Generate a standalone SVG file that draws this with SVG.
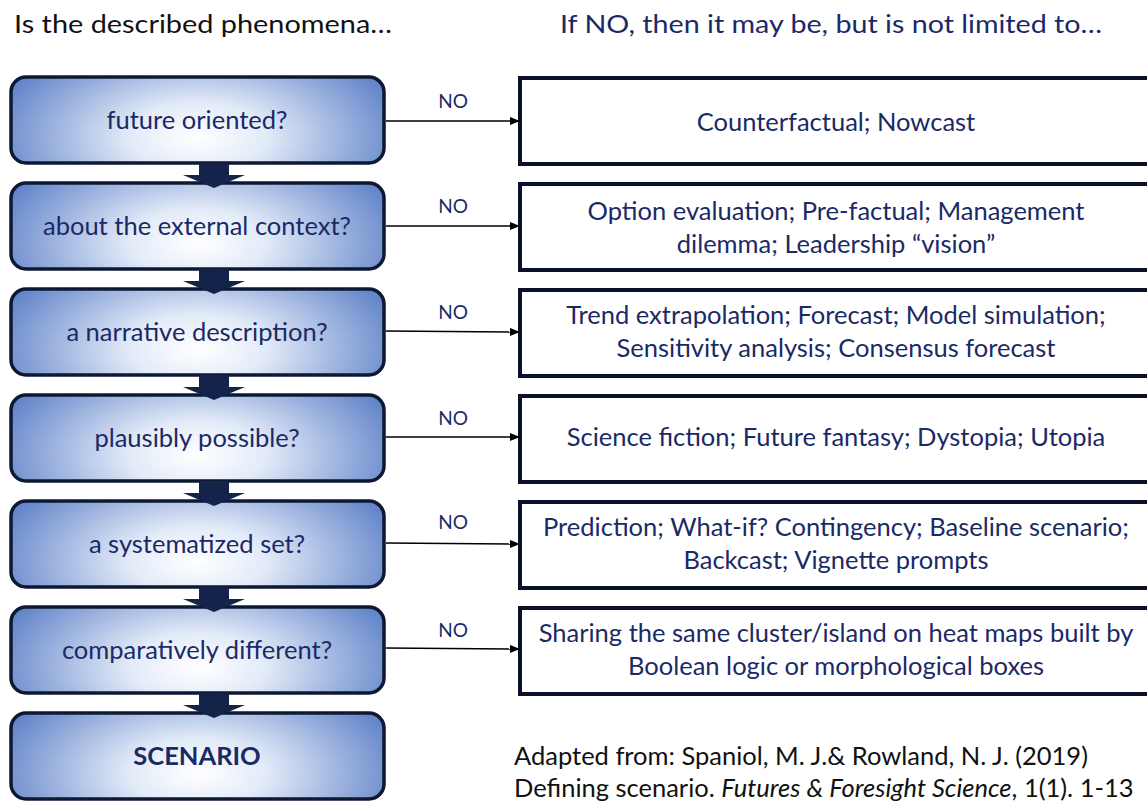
<svg xmlns="http://www.w3.org/2000/svg" width="1147" height="802" viewBox="0 0 1147 802">
<defs>
<radialGradient id="bg" cx="0.5" cy="0.7" r="0.6" gradientTransform="translate(0.5 0.7) scale(1 2.2) translate(-0.5 -0.7)">
<stop offset="0" stop-color="#ffffff"/>
<stop offset="0.3" stop-color="#e3ebf8"/>
<stop offset="1" stop-color="#5479c4"/>
</radialGradient>
<marker id="ah" markerWidth="10" markerHeight="8" refX="10" refY="4" orient="auto" markerUnits="userSpaceOnUse">
<path d="M0,0 L10,4 L0,8 z" fill="#000"/>
</marker>
<path id="darr" d="M-15,0 H15 V12 H31 L0,25 L-31,12 H-15 z"/>
</defs>
<style>
.q{fill:url(#bg);stroke:#0d1833;stroke-width:3.5}
.r{fill:#fff;stroke:#0a0f2a;stroke-width:4}
.t{font-family:Lato,"Open Sans",sans-serif;font-size:25.5px;fill:#1a2a66;text-anchor:middle}
.no{font-family:Lato,"Open Sans",sans-serif;font-size:19px;fill:#1a2a66;text-anchor:middle}
.h{font-family:Lato,"Open Sans",sans-serif;font-size:25.5px}
.c{stroke:#000;stroke-width:1.5;fill:none;marker-end:url(#ah)}
.da{fill:#13234a}
</style>
<text class="h" x="14" y="33" fill="#111" font-size="27" textLength="378" lengthAdjust="spacingAndGlyphs">Is the described phenomena…</text>
<text class="h" x="560" y="33" fill="#1a2a66" font-size="27" textLength="542" lengthAdjust="spacingAndGlyphs">If NO, then it may be, but is not limited to…</text>

<g id="q1"><rect class="q" x="11" y="77" width="373" height="86" rx="15"/><text class="t" x="197" y="129">future oriented?</text></g>
<g id="q2"><rect class="q" x="11" y="183" width="373" height="86" rx="15"/><text class="t" x="197" y="235">about the external context?</text></g>
<g id="q3"><rect class="q" x="11" y="289" width="373" height="86" rx="15"/><text class="t" x="197" y="341">a narrative description?</text></g>
<g id="q4"><rect class="q" x="11" y="395" width="373" height="86" rx="15"/><text class="t" x="197" y="447">plausibly possible?</text></g>
<g id="q5"><rect class="q" x="11" y="501" width="373" height="86" rx="15"/><text class="t" x="197" y="553">a systematized set?</text></g>
<g id="q6"><rect class="q" x="11" y="607" width="373" height="86" rx="15"/><text class="t" x="197" y="659">comparatively different?</text></g>
<g id="scenario"><rect class="q" x="11" y="713" width="373" height="86" rx="15"/><text class="t" x="197" y="765" font-weight="bold">SCENARIO</text></g>

<g id="a1"><rect class="r" x="520" y="78" width="640" height="86"/><text class="t" x="836" y="131">Counterfactual; Nowcast</text></g>
<g id="a2"><rect class="r" x="520" y="184" width="640" height="86"/><text class="t" x="836" y="220">Option evaluation; Pre-factual; Management</text><text class="t" x="836" y="253">dilemma; Leadership “vision”</text></g>
<g id="a3"><rect class="r" x="520" y="290" width="640" height="86"/><text class="t" x="836" y="324">Trend extrapolation; Forecast; Model simulation;</text><text class="t" x="836" y="357">Sensitivity analysis; Consensus forecast</text></g>
<g id="a4"><rect class="r" x="520" y="396" width="640" height="86"/><text class="t" x="836" y="446">Science fiction; Future fantasy; Dystopia; Utopia</text></g>
<g id="a5"><rect class="r" x="520" y="502" width="640" height="86"/><text class="t" x="836" y="536">Prediction; What-if? Contingency; Baseline scenario;</text><text class="t" x="836" y="569">Backcast; Vignette prompts</text></g>
<g id="a6"><rect class="r" x="520" y="608" width="640" height="86"/><text class="t" x="836" y="642">Sharing the same cluster/island on heat maps built by</text><text class="t" x="836" y="675">Boolean logic or morphological boxes</text></g>

<g id="connectors">
<line class="c" x1="386" y1="121" x2="520" y2="121"/>
<line class="c" x1="386" y1="226" x2="520" y2="226"/>
<line class="c" x1="386" y1="331" x2="520" y2="332"/>
<line class="c" x1="386" y1="437" x2="520" y2="437"/>
<line class="c" x1="386" y1="543" x2="520" y2="544"/>
<line class="c" x1="386" y1="648" x2="520" y2="649"/>
<text class="no" x="453" y="108">NO</text>
<text class="no" x="453" y="213">NO</text>
<text class="no" x="453" y="319">NO</text>
<text class="no" x="453" y="425">NO</text>
<text class="no" x="453" y="529">NO</text>
<text class="no" x="453" y="637">NO</text>
<use href="#darr" class="da" x="214" y="163"/>
<use href="#darr" class="da" x="214" y="269"/>
<use href="#darr" class="da" x="214" y="375"/>
<use href="#darr" class="da" x="214" y="481"/>
<use href="#darr" class="da" x="214" y="587"/>
<use href="#darr" class="da" x="214" y="693"/>
</g>

<text class="h" x="514" y="765" fill="#111">Adapted from: Spaniol, M. J.&amp; Rowland, N. J. (2019)</text>
<text class="h" x="514" y="797" fill="#111">Defining scenario. <tspan font-style="italic">Futures &amp; Foresight Science</tspan>, 1(1). 1-13</text>
</svg>
